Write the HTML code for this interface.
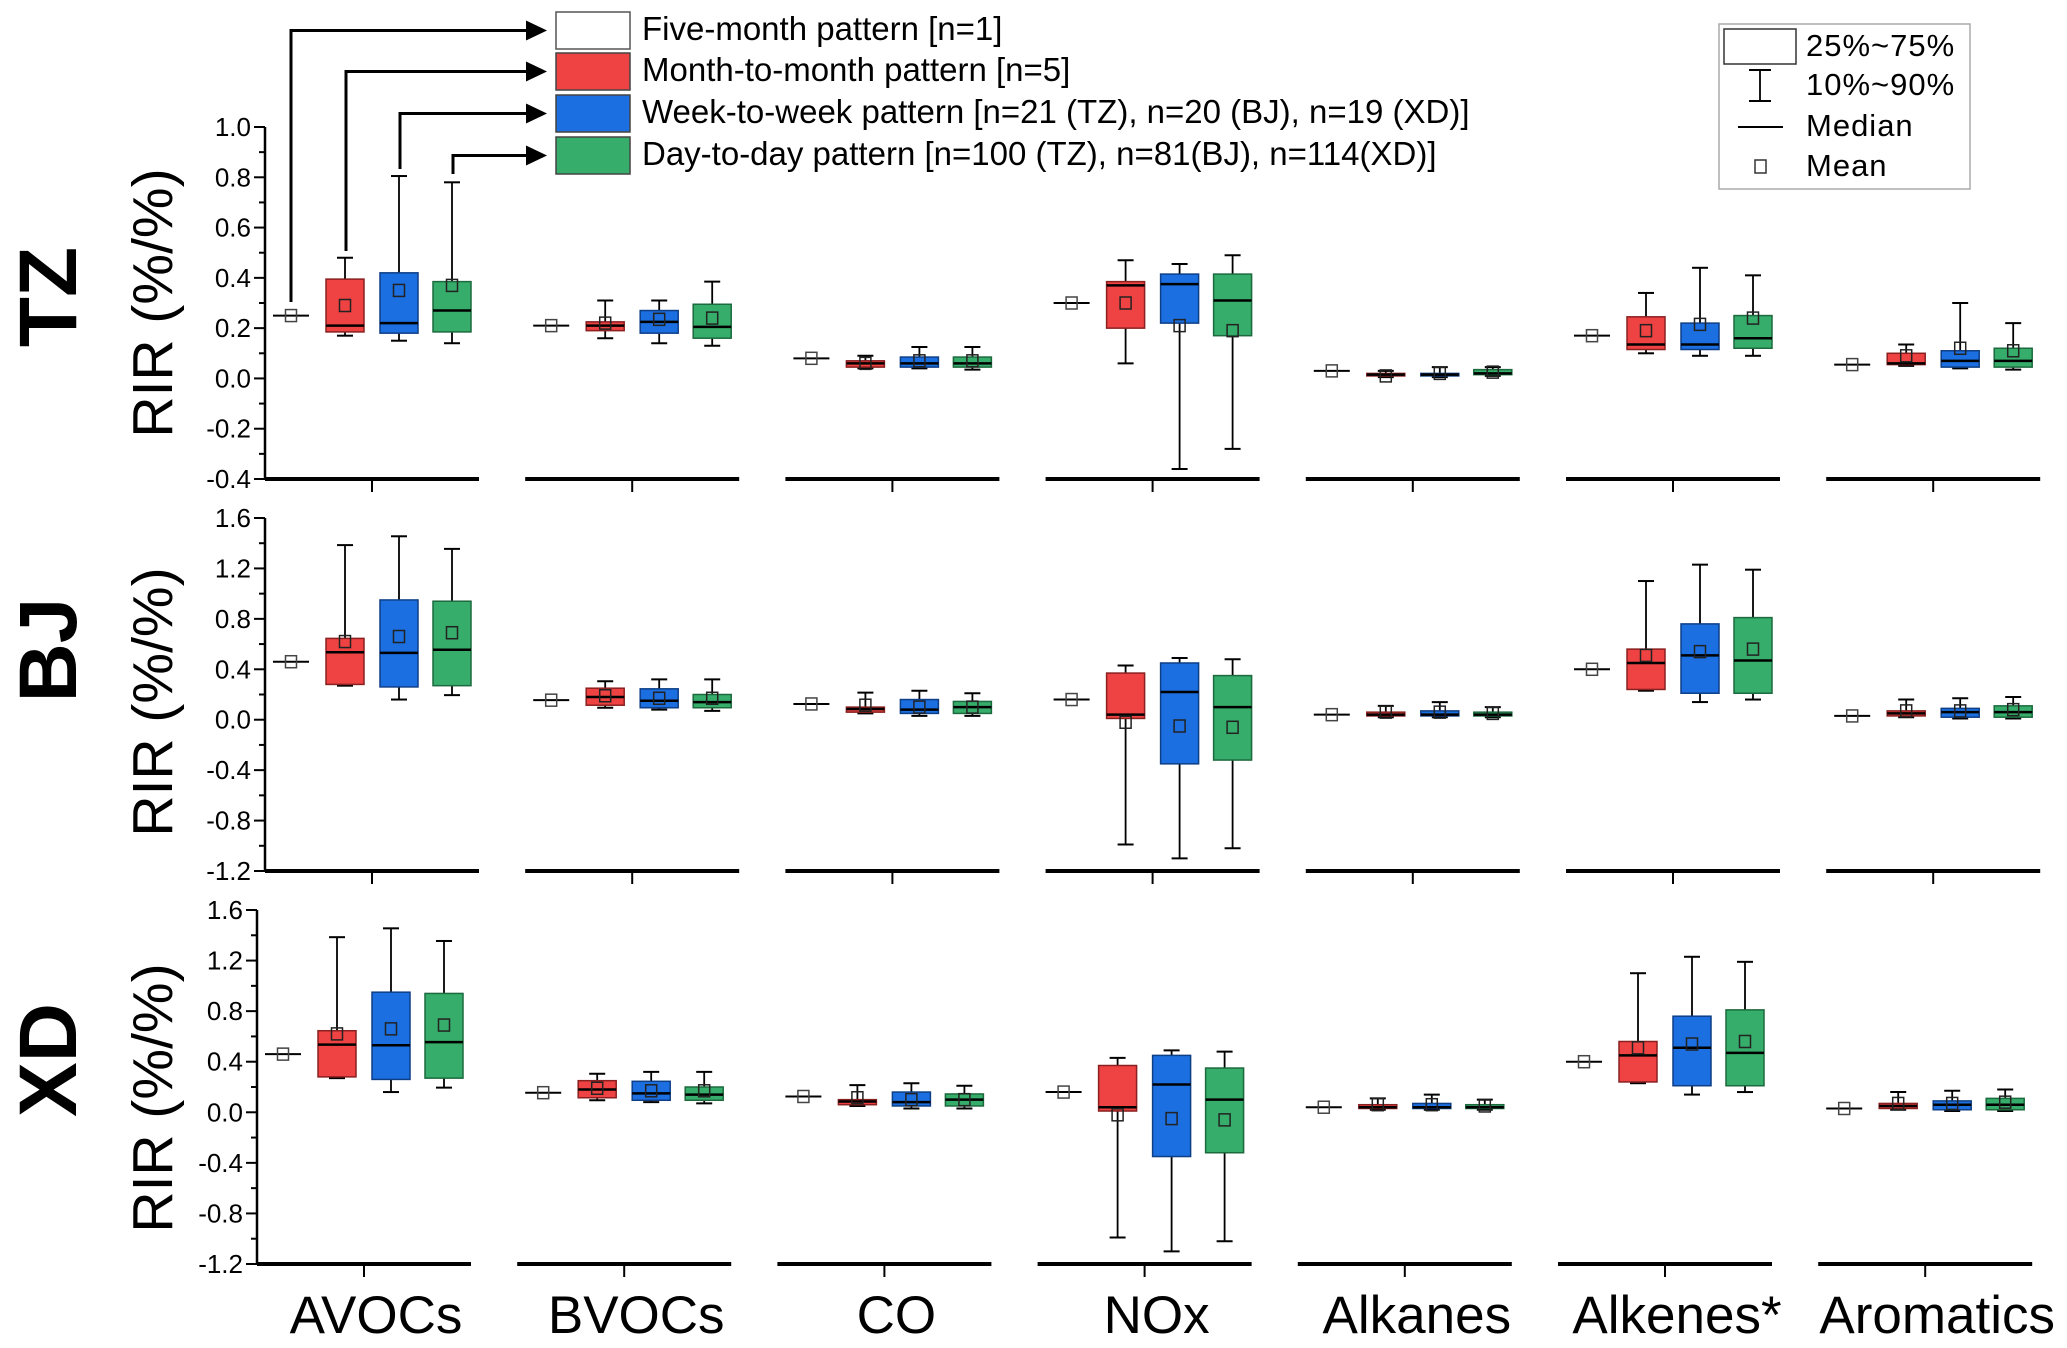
<!DOCTYPE html>
<html><head><meta charset="utf-8"><style>
html,body{margin:0;padding:0;background:#fff;}
svg{display:block;font-family:"Liberation Sans",Arial,sans-serif;}
</style></head>
<body>
<svg id="chart" width="2067" height="1348" viewBox="0 0 2067 1348" xmlns="http://www.w3.org/2000/svg"></svg>
<script>
// ---- data ----
const categories = ["AVOCs","BVOCs","CO","NOx","Alkanes","Alkenes*","Aromatics"];
const seriesNames = ["Month-to-month","Week-to-week","Day-to-day"];
const seriesColors = ["#ef4242","#1b6fe0","#36ad6a"];
const seriesStroke = ["#8a2020","#0e3f86","#1c6a3e"];
const tzTicks = ["-0.4","-0.2","0.0","0.2","0.4","0.6","0.8","1.0"];
const bjTicks = ["-1.2","-0.8","-0.4","0.0","0.4","0.8","1.2","1.6"];
// five-month single values per category
const tzFive = [0.25,0.21,0.08,0.30,0.03,0.17,0.055];
const bjFive = [0.46,0.155,0.125,0.16,0.04,0.40,0.03];
// stats per category per series: [p10,q1,median,q3,p90,mean]
const tzStats = [
 [[0.17,0.185,0.21,0.395,0.48,0.29],[0.15,0.18,0.22,0.42,0.805,0.35],[0.14,0.185,0.27,0.385,0.78,0.37]],
 [[0.16,0.19,0.21,0.225,0.31,0.22],[0.14,0.18,0.225,0.27,0.31,0.235],[0.13,0.16,0.205,0.295,0.385,0.24]],
 [[0.04,0.045,0.06,0.07,0.09,0.06],[0.04,0.045,0.06,0.085,0.125,0.07],[0.035,0.045,0.06,0.085,0.125,0.07]],
 [[0.06,0.20,0.37,0.385,0.47,0.30],[-0.36,0.22,0.375,0.415,0.455,0.21],[-0.28,0.17,0.31,0.415,0.49,0.19]],
 [[0.005,0.01,0.015,0.02,0.03,0.01],[0.005,0.01,0.015,0.02,0.045,0.02],[0.01,0.015,0.02,0.035,0.045,0.025]],
 [[0.10,0.115,0.135,0.245,0.34,0.19],[0.09,0.115,0.135,0.22,0.44,0.215],[0.09,0.12,0.16,0.25,0.41,0.24]],
 [[0.05,0.055,0.06,0.10,0.135,0.09],[0.04,0.045,0.07,0.11,0.30,0.12],[0.035,0.045,0.07,0.12,0.22,0.11]]
];
const bjStats = [
 [[0.27,0.28,0.535,0.645,1.385,0.62],[0.16,0.26,0.53,0.95,1.455,0.66],[0.195,0.27,0.555,0.94,1.355,0.69]],
 [[0.095,0.115,0.18,0.25,0.305,0.19],[0.08,0.095,0.15,0.245,0.32,0.17],[0.07,0.095,0.14,0.20,0.32,0.17]],
 [[0.05,0.06,0.085,0.10,0.215,0.115],[0.03,0.05,0.08,0.16,0.23,0.10],[0.03,0.05,0.10,0.145,0.21,0.10]],
 [[-0.99,0.01,0.04,0.37,0.43,-0.02],[-1.10,-0.35,0.22,0.45,0.49,-0.05],[-1.02,-0.32,0.10,0.35,0.48,-0.06]],
 [[0.02,0.03,0.04,0.06,0.11,0.06],[0.02,0.03,0.04,0.07,0.14,0.06],[0.02,0.03,0.04,0.06,0.10,0.05]],
 [[0.23,0.24,0.45,0.56,1.10,0.51],[0.14,0.21,0.51,0.76,1.23,0.54],[0.16,0.21,0.47,0.81,1.19,0.56]],
 [[0.02,0.03,0.05,0.07,0.16,0.07],[0.01,0.02,0.06,0.09,0.17,0.07],[0.01,0.02,0.06,0.11,0.18,0.08]]
];
const xdFive = bjFive.slice();
const xdStats = bjStats.map(c=>c.map(s=>s.slice()));

const panels = [
 {name:"TZ", top:127, bottom:479, min:-0.4, max:1.0, minor:0.1, ticks:tzTicks, five:tzFive, stats:tzStats, xoff:0, labelY:297, rirY:303},
 {name:"BJ", top:518, bottom:871, min:-1.2, max:1.6, minor:0.2, ticks:bjTicks, five:bjFive, stats:bjStats, xoff:0, labelY:650, rirY:702},
 {name:"XD", top:910, bottom:1264, min:-1.2, max:1.6, minor:0.2, ticks:bjTicks, five:xdFive, stats:xdStats, xoff:-8, labelY:1060, rirY:1098}
];

const NS="http://www.w3.org/2000/svg";
const svg=document.getElementById("chart");
function el(tag,attrs,parent){const e=document.createElementNS(NS,tag);for(const k in attrs)e.setAttribute(k,attrs[k]);(parent||svg).appendChild(e);return e;}

const GX0=372, GSTEP=260.2, AXIS_X=265, BOXW=38, OFFS=[-27,27,80], FIVE_OFF=-81;

panels.forEach((p,pi)=>{
  const g=el("g",{});
  
  
  const y=v=>p.bottom-(v-p.min)/(p.max-p.min)*(p.bottom-p.top);
  const ax=AXIS_X+p.xoff;
  const yl=el("line",{x1:ax,y1:p.top,x2:ax,y2:p.bottom,stroke:"#000","stroke-width":2.5},g);
  
  
  const nMinor=Math.round((p.max-p.min)/p.minor);
  for(let i=0;i<=nMinor;i++){
    const v=p.min+i*p.minor, yy=y(v), major=i%2===0;
    el("line",{x1:ax-(major?11:6),y1:yy,x2:ax,y2:yy,stroke:"#000","stroke-width":2},g);
  }
  p.ticks.forEach((t,i)=>{
    const v=parseFloat(t);
    const tx=el("text",{x:ax-14,y:y(v),"font-size":26,"text-anchor":"end","dominant-baseline":"central",fill:"#000"},g);
    tx.textContent=t;
    
    
  });
  const tl=el("text",{transform:`translate(76,${p.labelY}) rotate(-90)`,"font-size":82,"font-weight":"bold","text-anchor":"middle",fill:"#000"},g);
  tl.textContent=p.name;
  
  
  const rl=el("text",{transform:`translate(172,${p.rirY}) rotate(-90)`,"font-size":57,"text-anchor":"middle",fill:"#000"},g);
  rl.textContent="RIR (%/%)";
  
  
  categories.forEach((c,ci)=>{
    const cx=GX0+ci*GSTEP+p.xoff;
    const seg=el("line",{x1:cx-107,y1:p.bottom,x2:cx+107,y2:p.bottom,stroke:"#000","stroke-width":4},g);
    
    
    el("line",{x1:cx,y1:p.bottom,x2:cx,y2:p.bottom+13,stroke:"#000","stroke-width":2},g);
    const fx=cx+FIVE_OFF, fv=y(p.five[ci]);
    const fl=el("line",{x1:fx-18,y1:fv,x2:fx+18,y2:fv,stroke:"#000","stroke-width":2},g);
    
    
    el("rect",{x:fx-5.5,y:fv-6,width:11,height:12,fill:"none",stroke:"#444","stroke-width":1.5},g);
    p.stats[ci].forEach((s,si)=>{
      const bx=cx+OFFS[si];
      const [p10,q1,md,q3,p90,mn]=s;
      const bg=el("g",{},g);
      
      
      el("line",{x1:bx,y1:y(p90),x2:bx,y2:y(q3),stroke:"#000","stroke-width":1.8},bg);
      el("line",{x1:bx,y1:y(q1),x2:bx,y2:y(p10),stroke:"#000","stroke-width":1.8},bg);
      el("line",{x1:bx-8,y1:y(p90),x2:bx+8,y2:y(p90),stroke:"#000","stroke-width":2},bg);
      el("line",{x1:bx-8,y1:y(p10),x2:bx+8,y2:y(p10),stroke:"#000","stroke-width":2},bg);
      const yt=y(q3), yb=y(q1);
      el("rect",{x:bx-BOXW/2,y:yt,width:BOXW,height:Math.max(yb-yt,1.5),fill:seriesColors[si],stroke:seriesStroke[si],"stroke-width":1.5},bg);
      el("line",{x1:bx-BOXW/2,y1:y(md),x2:bx+BOXW/2,y2:y(md),stroke:"#000","stroke-width":2.5},bg);
      el("rect",{x:bx-5.5,y:y(mn)-6,width:11,height:12,fill:"none",stroke:"#222","stroke-width":1.5},bg);
    });
  });
});

categories.forEach((c,ci)=>{
  const t=el("text",{x:GX0+ci*GSTEP+4,y:1333,"font-size":53,"text-anchor":"middle",fill:"#000"});
  t.textContent=c;
  
  
});

const legNames=["Five-month pattern [n=1]","Month-to-month pattern [n=5]","Week-to-week pattern [n=21 (TZ), n=20 (BJ), n=19 (XD)]","Day-to-day pattern [n=100 (TZ), n=81(BJ), n=114(XD)]"];
const legFill=["#ffffff","#ef4242","#1b6fe0","#36ad6a"];
const legTop=[12,53,95,137];
const arrowX=[291,346,400,453];
const arrowFrom=[302,251,169,174];
legNames.forEach((n,i)=>{
  const cy=legTop[i]+18.5;
  const lg=el("g",{});
  
  
  el("rect",{x:556,y:legTop[i],width:74,height:37,fill:legFill[i],stroke:i===0?"#555":"#444","stroke-width":1.5},lg);
  const t=el("text",{x:642,y:cy+1,"font-size":33,"dominant-baseline":"middle",fill:"#000"},lg);
  t.textContent=n;
  el("polyline",{points:`${arrowX[i]},${arrowFrom[i]} ${arrowX[i]},${cy} ${528},${cy}`,fill:"none",stroke:"#000","stroke-width":3},lg);
  el("polygon",{points:`526,${cy-10} 547,${cy} 526,${cy+10}`,fill:"#000"},lg);
});

const sl=el("g",{});


el("rect",{x:1719,y:24,width:251,height:165,fill:"#fff",stroke:"#aaa","stroke-width":1.5},sl);
el("rect",{x:1724,y:29,width:72,height:35,fill:"#fff",stroke:"#333","stroke-width":1.5},sl);
el("line",{x1:1760,y1:70,x2:1760,y2:101,stroke:"#000","stroke-width":1.8},sl);
el("line",{x1:1749,y1:70,x2:1771,y2:70,stroke:"#000","stroke-width":2},sl);
el("line",{x1:1749,y1:101,x2:1771,y2:101,stroke:"#000","stroke-width":2},sl);
el("line",{x1:1738,y1:127,x2:1783,y2:127,stroke:"#000","stroke-width":2},sl);
el("rect",{x:1755,y:160,width:11,height:13,fill:"none",stroke:"#333","stroke-width":1.5},sl);
[["25%~75%",47],["10%~90%",86],["Median",127],["Mean",167]].forEach(([txt,yy])=>{
  const t=el("text",{x:1806,y:yy+1,"font-size":31,"letter-spacing":1,"dominant-baseline":"middle",fill:"#000"},sl);
  t.textContent=txt;
});
</script>
</body></html>
